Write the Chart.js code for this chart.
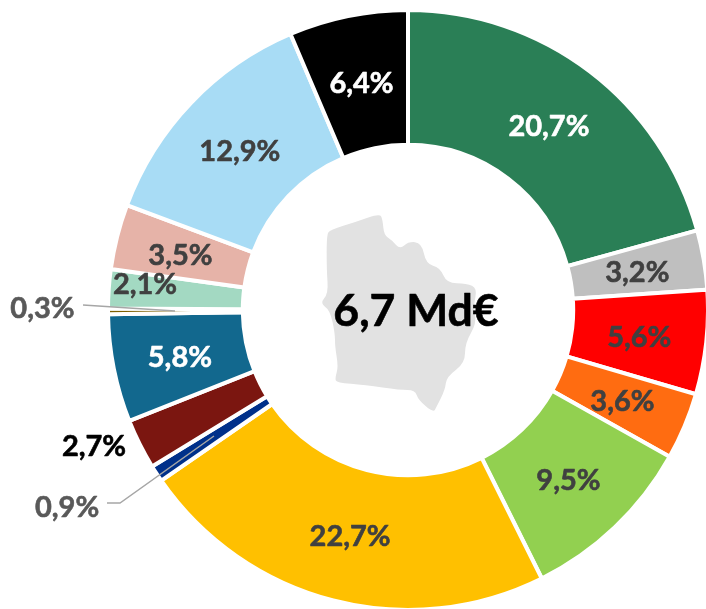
<!DOCTYPE html>
<html><head><meta charset="utf-8">
<style>html,body{margin:0;padding:0;background:#fff}#w{width:706px;height:609px}</style>
<script src="https://cdn.jsdelivr.net/npm/chart.js@4"></script></head>
<body><div id="w"><canvas id="c" width="706" height="609"></canvas></div>
<script>
const values = [20.7,3.2,5.6,3.6,9.5,22.7,0.9,2.7,5.8,0.3,2.1,3.5,12.9,6.4];
const labels = ['20,7%','3,2%','5,6%','3,6%','9,5%','22,7%','0,9%','2,7%','5,8%','0,3%','2,1%','3,5%','12,9%','6,4%'];
const colors = ['#2A7F56','#BFBFBF','#FF0000','#FF6C11','#92D050','#FFC000','#00308A','#7B1610','#12688E','#7F6000','#A3D9C2','#E6B3A8','#A8DCF5','#000000'];
const labelColors = ['#fff','#404040','#404040','#404040','#404040','#404040','#595959','#000','#fff','#595959','#404040','#404040','#404040','#fff'];
const labelOffsets = [[0,2],[0,2],[0,2],[0,2],[0,2],[0,1],[-146,71],[-106,33],[0,2],[-133,-2],[-31,-9],[-2,2],[0,2],[0,2]];
const centerText = '6,7 Md€';
const regionShape = [[240,70],[248,90],[252,135],[275,150],[300,178],[325,155],[365,158],[378,222],[420,232],[440,280],[500,280],[532,295],[520,350],[530,400],[495,460],[495,520],[440,560],[435,600],[410,650],[400,668],[355,630],[345,600],[300,600],[195,585],[110,578],[105,565],[115,530],[105,470],[105,430],[90,360],[60,340],[85,310],[80,240],[80,135],[90,120],[170,95]];
const leaders = [{from:9,pts:[[83,305],[175,311]]},{from:6,pts:[[107,503],[120,503],[214,436]]}];
const FONT = 'Lato, Carlito, sans-serif';
const deco = {
  id:'deco',
  beforeDatasetsDraw(ch){
    const g=ch.ctx;g.save();g.fillStyle='#E2E2E2';g.beginPath();
    const pts=regionShape.map(p=>[300+p[0]/3,190+p[1]/3]),n=pts.length;
    const mid=(a,b)=>[(a[0]+b[0])/2,(a[1]+b[1])/2];
    let s=mid(pts[n-1],pts[0]);g.moveTo(s[0],s[1]);
    pts.forEach((p,i)=>{const e=mid(p,pts[(i+1)%n]);g.quadraticCurveTo(p[0],p[1],e[0],e[1]);});
    g.closePath();g.fill();g.restore();
  },
  afterDatasetsDraw(ch){
    const g=ch.ctx,m=ch.getDatasetMeta(0);g.save();
    g.strokeStyle='#A6A6A6';g.lineWidth=1.5;
    leaders.forEach(l=>{g.beginPath();l.pts.forEach((p,i)=>i?g.lineTo(p[0],p[1]):g.moveTo(p[0],p[1]));g.stroke();});
    g.font='bold 29px '+FONT;g.textAlign='center';g.textBaseline='middle';g.lineWidth=0.6;g.lineJoin='round';
    m.data.forEach((a,i)=>{const p=a.getCenterPoint(),x=p.x+labelOffsets[i][0],y=p.y+labelOffsets[i][1];
      g.fillStyle=g.strokeStyle=labelColors[i];g.fillText(labels[i],x,y);g.strokeText(labels[i],x,y);});
    const a=m.data[0];g.font='bold 44.5px '+FONT;g.fillStyle=g.strokeStyle='#000';
    g.fillText(centerText,a.x+8,a.y+2);g.strokeText(centerText,a.x+8,a.y+2);g.restore();
  }
};
new Chart(document.getElementById('c'),{type:'doughnut',
 data:{labels,datasets:[{data:values,backgroundColor:colors,borderColor:'#fff',borderWidth:4}]},
 options:{responsive:false,animation:false,cutout:163,radius:300,
  layout:{padding:{left:110,top:12,bottom:1,right:0}},
  plugins:{legend:{display:false},tooltip:{enabled:false}}},
 plugins:[deco]});
</script></body></html>
